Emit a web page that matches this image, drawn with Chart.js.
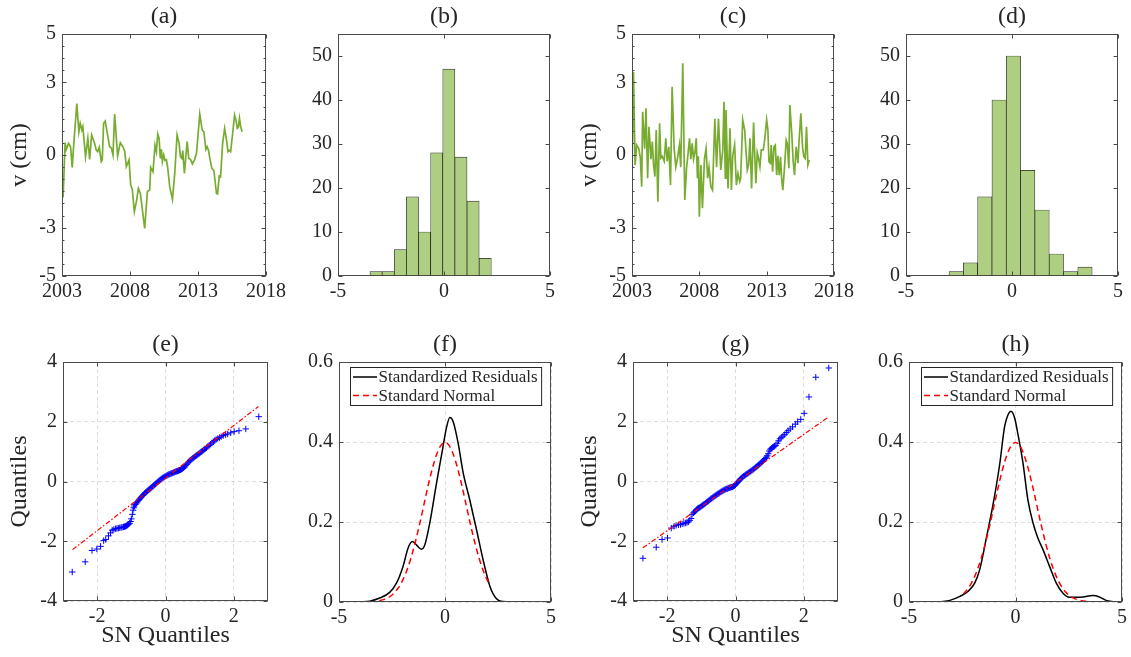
<!DOCTYPE html>
<html>
<head>
<meta charset="utf-8">
<script src="https://cdn.jsdelivr.net/npm/chart.js@4.4.0/dist/chart.umd.min.js"></script>
<style>
  html, body { margin: 0; padding: 0; background: #fff; }
  #fig { position: relative; width: 1131px; height: 657px; overflow: hidden; }
  #fig canvas { position: absolute; }
</style>
</head>
<body>
<div id="fig"></div>
<script>
"use strict";

// ---------- data ----------
const panelTitles = ['(a)', '(b)', '(c)', '(d)', '(e)', '(f)', '(g)', '(h)'];

// (a) smooth series
const yearsA = [2003.00,2003.08,2003.23,2003.31,2003.48,2003.63,2003.75,2003.87,2004.09,2004.24,
  2004.34,2004.46,2004.53,2004.73,2004.90,2005.03,2005.18,2005.40,2005.52,2005.62,
  2005.74,2005.89,2005.96,2006.06,2006.18,2006.33,2006.50,2006.62,2006.75,2006.87,
  2007.09,2007.29,2007.48,2007.61,2007.73,2007.93,2008.05,2008.17,2008.32,2008.47,
  2008.62,2008.76,2009.08,2009.28,2009.45,2009.52,2009.69,2009.84,2009.94,2010.04,
  2010.14,2010.23,2010.31,2010.38,2010.48,2010.58,2010.68,2010.77,2010.92,2011.12,
  2011.29,2011.46,2011.61,2011.71,2011.81,2011.88,2012.00,2012.20,2012.32,2012.45,
  2012.59,2012.74,2012.89,2013.13,2013.31,2013.43,2013.58,2013.67,2013.77,2013.87,
  2014.02,2014.17,2014.36,2014.44,2014.56,2014.66,2014.81,2014.96,2015.10,2015.20,
  2015.30,2015.40,2015.55,2015.69,2015.79,2015.89,2015.97,2016.05,2016.14,2016.24];
const valuesA = [-1.45,-1.75,0.51,0.23,0.48,0.34,-0.51,0.48,2.13,0.96,
  1.31,1.04,1.17,-0.07,0.69,-0.18,0.83,0.48,0.20,0.14,
  0.32,-0.27,-0.21,1.31,1.40,0.90,0.34,0.30,0.00,1.69,
  -0.04,0.51,0.34,0.16,-0.48,-0.20,-1.24,-1.42,-2.34,-1.93,
  -1.38,-1.58,-3.03,-1.51,-1.45,-0.51,-0.69,0.40,0.14,0.87,
  0.69,-0.14,0.23,-0.27,0.00,-0.23,-0.20,-0.51,-1.31,-1.83,
  -0.76,0.83,0.48,-0.07,-0.14,0.18,-0.76,0.55,-0.14,-0.18,
  -0.37,-0.20,0.07,1.69,1.03,0.96,0.23,0.34,0.20,-0.14,
  -0.55,-0.65,-1.59,-1.61,-0.87,-0.90,0.48,1.10,0.62,0.14,
  0.20,0.14,0.90,1.65,1.45,1.10,1.14,1.52,1.17,0.96];

// (c) noisy series
const yearsC = [2003.00,2003.11,2003.23,2003.35,2003.50,2003.62,2003.72,2003.79,2003.94,2004.04,
  2004.16,2004.26,2004.41,2004.51,2004.60,2004.70,2004.80,2004.92,2005.05,2005.14,
  2005.24,2005.39,2005.51,2005.61,2005.73,2005.86,2005.98,2006.13,2006.25,2006.37,
  2006.52,2006.62,2006.77,2006.92,2007.05,2007.17,2007.27,2007.37,2007.47,2007.57,
  2007.67,2007.77,2007.86,2007.93,2008.00,2008.12,2008.23,2008.38,2008.50,2008.62,
  2008.72,2008.85,2008.98,2009.15,2009.28,2009.42,2009.59,2009.74,2009.83,2009.93,
  2009.98,2010.13,2010.28,2010.38,2010.48,2010.62,2010.75,2010.87,2011.00,2011.07,
  2011.22,2011.37,2011.46,2011.56,2011.66,2011.76,2011.88,2012.03,2012.11,2012.20,
  2012.30,2012.40,2012.50,2012.60,2012.75,2012.85,2013.00,2013.09,2013.17,2013.27,
  2013.34,2013.44,2013.54,2013.64,2013.74,2013.83,2013.93,2014.03,2014.11,2014.20,
  2014.33,2014.45,2014.53,2014.65,2014.72,2014.87,2014.97,2015.07,2015.19,2015.32,
  2015.41,2015.54,2015.66,2015.76,2015.86,2015.96,2016.06,2016.16];
const valuesC = [-0.96,3.44,-0.41,0.41,0.28,-0.12,-1.31,1.79,0.26,1.93,
  -0.96,1.17,-0.17,0.55,-0.41,-0.89,1.03,-1.93,1.31,-0.12,
  -0.05,-0.26,0.69,-0.26,0.34,-1.24,2.82,0.26,-0.50,-0.17,
  0.41,-0.50,3.79,-1.86,-0.55,0.10,0.69,-0.17,0.48,-0.17,
  0.10,0.69,-0.96,-0.05,-2.55,-0.41,-2.20,-0.17,0.26,-0.96,
  -0.50,-1.30,-1.45,1.50,-0.50,1.50,-0.62,0.21,2.20,-0.96,
  1.86,-1.38,1.10,-1.45,-0.03,0.41,-1.24,-0.76,-1.10,-0.96,
  1.45,1.03,0.21,-0.62,-0.41,0.69,-1.38,1.34,0.07,-1.17,
  0.10,-0.14,-0.48,0.21,0.21,0.62,1.45,1.03,-0.28,-0.34,
  0.41,-0.69,0.34,0.41,-0.83,-0.03,-0.83,-0.07,-0.96,-1.45,
  -0.48,0.62,0.48,-0.55,2.07,0.83,-0.28,-0.83,0.34,-0.34,
  0.62,1.72,0.34,-0.07,-0.14,1.17,-0.41,-0.21];

// (b), (d) histograms
const binEdgesB = [-3.49,-2.918,-2.346,-1.774,-1.202,-0.63,-0.058,0.514,1.086,1.658,2.23];
const countsB = [1,1,6,18,10,28,47,27,17,4];
const binEdgesD = [-2.97,-2.295,-1.62,-0.945,-0.27,0.405,1.08,1.755,2.43,3.105,3.78];
const countsD = [1,3,18,40,50,24,15,5,1,2];

// (e), (g) Q-Q points and reference lines
const qqXE = [-2.73,-2.35,-2.15,-2.01,-1.90,-1.81,-1.75,-1.67,-1.61,-1.56,
  -1.51,-1.46,-1.42,-1.38,-1.34,-1.30,-1.27,-1.23,-1.20,-1.17,
  -1.14,-1.11,-1.08,-1.05,-1.02,-1.00,-0.97,-0.95,-0.93,-0.91,
  -0.88,-0.85,-0.82,-0.79,-0.76,-0.73,-0.70,-0.67,-0.64,-0.61,
  -0.58,-0.55,-0.52,-0.49,-0.46,-0.43,-0.40,-0.37,-0.34,-0.31,
  -0.28,-0.25,-0.22,-0.19,-0.16,-0.13,-0.10,-0.07,-0.04,-0.01,
  0.02,0.05,0.08,0.11,0.14,0.17,0.20,0.23,0.26,0.29,
  0.32,0.35,0.38,0.41,0.44,0.47,0.50,0.53,0.56,0.59,
  0.62,0.65,0.68,0.71,0.74,0.77,0.80,0.83,0.86,0.89,
  0.92,0.95,0.98,1.01,1.04,1.07,1.10,1.13,1.16,1.20,
  1.24,1.28,1.32,1.36,1.40,1.44,1.48,1.53,1.58,1.63,
  1.69,1.76,1.82,1.91,2.01,2.15,2.35,2.73];
const qqYE = [-3.03,-2.69,-2.31,-2.26,-2.17,-1.98,-1.94,-1.82,-1.72,-1.63,
  -1.60,-1.58,-1.57,-1.56,-1.55,-1.54,-1.53,-1.52,-1.51,-1.50,
  -1.48,-1.46,-1.43,-1.40,-1.34,-1.25,-1.10,-0.96,-0.88,-0.82,
  -0.77,-0.72,-0.68,-0.63,-0.59,-0.55,-0.51,-0.47,-0.44,-0.40,
  -0.37,-0.34,-0.31,-0.28,-0.25,-0.22,-0.19,-0.16,-0.13,-0.10,
  -0.07,-0.04,-0.01,0.02,0.05,0.08,0.11,0.13,0.15,0.17,
  0.19,0.21,0.23,0.24,0.26,0.27,0.28,0.30,0.31,0.33,
  0.34,0.35,0.36,0.38,0.39,0.41,0.43,0.46,0.49,0.53,
  0.57,0.62,0.66,0.69,0.72,0.75,0.78,0.80,0.83,0.86,
  0.88,0.91,0.93,0.96,0.99,1.01,1.04,1.07,1.10,1.13,
  1.17,1.21,1.25,1.29,1.33,1.37,1.41,1.44,1.47,1.50,
  1.54,1.57,1.59,1.63,1.67,1.70,1.76,2.17];
const refXE = [-2.72, 2.72];
const refYE = [-2.28, 2.51];

const qqXG = [-2.71,-2.32,-2.15,-1.99,-1.88,-1.80,-1.74,-1.67,-1.61,-1.56,
  -1.51,-1.46,-1.42,-1.38,-1.34,-1.30,-1.27,-1.23,-1.20,-1.17,
  -1.14,-1.11,-1.08,-1.05,-1.02,-0.99,-0.96,-0.93,-0.90,-0.87,
  -0.84,-0.81,-0.78,-0.75,-0.72,-0.69,-0.66,-0.63,-0.60,-0.57,
  -0.54,-0.51,-0.48,-0.45,-0.42,-0.39,-0.36,-0.33,-0.30,-0.27,
  -0.24,-0.21,-0.18,-0.15,-0.12,-0.09,-0.06,-0.03,0.00,0.03,
  0.06,0.09,0.12,0.15,0.18,0.21,0.24,0.27,0.30,0.33,
  0.36,0.39,0.42,0.45,0.48,0.51,0.54,0.57,0.60,0.63,
  0.66,0.69,0.72,0.75,0.78,0.81,0.84,0.87,0.90,0.93,
  0.96,0.99,1.02,1.05,1.08,1.11,1.14,1.18,1.22,1.26,
  1.30,1.34,1.39,1.44,1.49,1.54,1.60,1.67,1.75,1.82,
  1.91,2.01,2.15,2.35,2.73];
const qqYG = [-2.57,-2.20,-1.94,-1.89,-1.56,-1.50,-1.47,-1.45,-1.44,-1.42,
  -1.40,-1.39,-1.37,-1.35,-1.30,-1.24,-1.10,-1.05,-1.02,-0.98,
  -0.94,-0.91,-0.89,-0.87,-0.85,-0.82,-0.80,-0.77,-0.75,-0.72,
  -0.69,-0.67,-0.64,-0.61,-0.58,-0.56,-0.53,-0.51,-0.48,-0.46,
  -0.43,-0.41,-0.39,-0.36,-0.34,-0.32,-0.30,-0.28,-0.26,-0.25,
  -0.24,-0.22,-0.21,-0.20,-0.19,-0.18,-0.16,-0.14,-0.11,-0.07,
  -0.03,0.01,0.05,0.09,0.12,0.15,0.18,0.20,0.23,0.25,
  0.27,0.30,0.32,0.35,0.37,0.40,0.42,0.45,0.48,0.51,
  0.54,0.57,0.60,0.63,0.66,0.69,0.73,0.77,0.81,0.86,
  0.93,1.02,1.08,1.11,1.14,1.16,1.18,1.21,1.28,1.36,
  1.43,1.48,1.52,1.57,1.64,1.70,1.76,1.83,1.92,2.00,
  2.08,2.28,2.83,3.49,3.80];
const refXG = [-2.71, 2.71];
const refYG = [-2.22, 2.15];

// (f), (h) density estimates and standard normal
const kdeXF = [-4.02,-3.55,-3.08,-2.61,-2.29,-1.98,-1.74,-1.54,-1.35,-1.11,
  -0.95,-0.72,-0.40,-0.12,0.07,0.23,0.39,0.62,0.86,1.17,
  1.49,1.80,2.12,2.43,2.75,3.19];
const kdeYF = [0,0.002,0.01,0.024,0.047,0.089,0.135,0.151,0.143,0.132,
  0.143,0.197,0.297,0.38,0.436,0.461,0.45,0.397,0.322,0.255,
  0.18,0.105,0.039,0.008,0.001,0];
const normXF = [-3.1,-2.8,-2.5,-2.2,-2.0,-1.8,-1.6,-1.4,-1.2,-1.0,
  -0.8,-0.6,-0.4,-0.2,0,0.2,0.4,0.6,0.8,1.0,
  1.2,1.4,1.6,1.8,2.0,2.1];
const normYF = [0.0033,0.0079,0.0175,0.0355,0.054,0.079,0.111,0.150,0.194,0.242,
  0.290,0.333,0.368,0.391,0.399,0.391,0.368,0.333,0.290,0.242,
  0.194,0.150,0.111,0.079,0.054,0.044];

const kdeXH = [-3.55,-3.08,-2.61,-2.22,-1.91,-1.68,-1.36,-1.05,-0.74,-0.51,
  -0.35,-0.21,-0.04,0.12,0.35,0.58,0.82,1.05,1.29,1.60,
  1.91,2.22,2.53,2.85,3.16,3.63,3.94,4.25,4.64];
const kdeYH = [0,0.004,0.014,0.027,0.048,0.081,0.162,0.245,0.345,0.439,
  0.468,0.477,0.46,0.418,0.348,0.256,0.198,0.16,0.131,0.089,
  0.048,0.0225,0.012,0.012,0.0125,0.016,0.0125,0.004,0];
const normXH = [-2.45,-2.2,-2.0,-1.8,-1.6,-1.4,-1.2,-1.0,-0.8,-0.6,
  -0.4,-0.2,0,0.2,0.4,0.6,0.8,1.0,1.2,1.4,
  1.6,1.8,2.0,2.2,2.4,2.6,2.8,3.0,3.3,3.65];
const normYH = [0.0198,0.0355,0.054,0.079,0.111,0.150,0.194,0.242,0.290,0.333,
  0.368,0.391,0.399,0.391,0.368,0.333,0.290,0.242,0.194,0.150,
  0.111,0.079,0.054,0.0355,0.0224,0.0136,0.0079,0.0044,0.0017,0.0005];

const seriesLabels = ['Standardized Residuals', 'Standard Normal'];

// tick values
const yearTicks = [2003, 2008, 2013, 2018];
const dispTicks = [-5, -3, 0, 3, 5];
const histXTicks = [-5, 0, 5];
const histYTicks = [0, 10, 20, 30, 40, 50];
const qqXTicks = [-2, 0, 2];
const qqYTicks = [-4, -2, 0, 2, 4];
const pdfXTicks = [-5, 0, 5];
const pdfYTicks = [0, 0.2, 0.4, 0.6];

// ---------- styles ----------
const SERIF = '"Liberation Serif", "Times New Roman", serif';
const INK = '#262626';
const FRAME = '#4a4a4a';
const GREEN = 'rgb(119,172,48)';
const HISTFILL = 'rgb(174,206,130)';
const GRID = 'rgba(0,0,0,0.13)';

const zip = (xs, ys) => xs.map((v, i) => ({ x: v, y: ys[i] }));
const binPoints = (edges, counts) => counts.map((c, i) => ({ x: (edges[i] + edges[i + 1]) / 2, y: c }));

// box, ticks, title and legend drawn the MATLAB way
const framePlugin = {
  id: 'frame',
  afterDraw(chart, args, o) {
    const { ctx, chartArea: a, scales: { x, y } } = chart;
    const L = Math.round(a.left) + 0.5, R = Math.round(a.right) - 0.5;
    const T = Math.round(a.top) + 0.5, B = Math.round(a.bottom) - 0.5;
    ctx.save();
    ctx.strokeStyle = FRAME;
    ctx.lineWidth = 1;
    ctx.setLineDash([]);
    ctx.beginPath();
    x.ticks.forEach(t => {
      const p = Math.round(x.getPixelForValue(t.value)) + 0.5;
      ctx.moveTo(p, B); ctx.lineTo(p, B - 4);
      ctx.moveTo(p, T); ctx.lineTo(p, T + 4);
    });
    y.ticks.forEach(t => {
      const p = Math.round(y.getPixelForValue(t.value)) + 0.5;
      ctx.moveTo(L, p); ctx.lineTo(L + 4, p);
      ctx.moveTo(R, p); ctx.lineTo(R - 4, p);
    });
    if (o.minorY) {
      for (let v = y.min; v <= y.max + 1e-9; v += o.minorY) {
        const p = Math.round(y.getPixelForValue(v)) + 0.5;
        ctx.moveTo(L, p); ctx.lineTo(L + 2, p);
        ctx.moveTo(R, p); ctx.lineTo(R - 2, p);
      }
    }
    ctx.stroke();
    ctx.strokeRect(L, T, R - L, B - T);

    // panel label
    ctx.fillStyle = INK;
    ctx.font = `24px ${SERIF}`;
    ctx.textAlign = 'center';
    ctx.textBaseline = 'middle';
    ctx.fillText(o.title, (a.left + a.right) / 2, a.top - 17);

    if (o.legend) {
      const items = chart.data.datasets.filter(d => d.label);
      ctx.font = `17px ${SERIF}`;
      const textW = Math.max(...items.map(d => ctx.measureText(d.label).width));
      const w = 28 + textW + 4, h = 38;
      const lx = Math.round(a.right - 10 - w) + 0.5, ly = Math.round(a.top + 5) + 0.5;
      ctx.fillStyle = '#fff';
      ctx.fillRect(lx, ly, w, h);
      ctx.strokeStyle = INK;
      ctx.strokeRect(lx, ly, w, h);
      items.forEach((d, i) => {
        const cy = ly + 9.5 + i * 18.5;
        ctx.strokeStyle = d.borderColor;
        ctx.lineWidth = d.borderWidth;
        ctx.setLineDash(d.borderDash || []);
        ctx.beginPath();
        ctx.moveTo(lx + 2.5, cy); ctx.lineTo(lx + 26.5, cy);
        ctx.stroke();
        ctx.setLineDash([]);
        ctx.fillStyle = INK;
        ctx.textAlign = 'left';
        ctx.fillText(d.label, lx + 28, cy + 1);
      });
    }
    ctx.restore();
  }
};

const figure = document.getElementById('fig');

const makePanel = ({ box, area, type, datasets, x, y, title, grid = false, legend = false, minorY = 0 }) => {
  const [bx, by, bw, bh] = box;
  const [al, at, ar, ab] = area;
  const canvas = document.createElement('canvas');
  canvas.width = bw;
  canvas.height = bh;
  Object.assign(canvas.style, { left: bx + 'px', top: by + 'px', width: bw + 'px', height: bh + 'px' });
  figure.appendChild(canvas);

  const axis = (cfg, side) => ({
    type: 'linear',
    min: cfg.min,
    max: cfg.max,
    offset: false,
    afterBuildTicks: s => { s.ticks = cfg.ticks.map(v => ({ value: v })); },
    afterFit: s => { if (side === 'x') s.height = by + bh - ab; else s.width = al - bx; },
    grid: { display: grid, drawTicks: false, color: GRID, lineWidth: 1 },
    border: { display: false, dash: [4, 3] },
    ticks: {
      color: INK, font: { family: SERIF, size: 20 }, padding: side === 'x' ? 4 : 6,
      autoSkip: false, maxRotation: 0, callback: v => String(v)
    },
    title: cfg.label
      ? { display: true, text: cfg.label, color: INK, font: { family: SERIF, size: 24 },
          padding: side === 'x' ? { top: 0, bottom: 6.5 } : { top: 5.6, bottom: 0 } }
      : { display: false }
  });

  new Chart(canvas, {
    type,
    data: { datasets },
    options: {
      responsive: false,
      animation: false,
      events: [],
      layout: { padding: { left: 0, top: at - by, right: bx + bw - ar, bottom: 0 } },
      plugins: { legend: { display: false }, tooltip: { enabled: false }, frame: { title, legend, minorY } },
      scales: { x: axis(x, 'x'), y: axis(y, 'y') }
    },
    plugins: [framePlugin]
  });
};

const seriesSet = (xs, ys) => [{
  data: zip(xs, ys), borderColor: GREEN, borderWidth: 1.7, pointRadius: 0, tension: 0
}];
const histSet = (edges, counts) => [{
  data: binPoints(edges, counts), backgroundColor: HISTFILL, borderColor: 'rgba(0,0,0,0.85)',
  borderWidth: 0.7, borderSkipped: false, barPercentage: 1, categoryPercentage: 1
}];
const qqSet = (xs, ys, rx, ry) => [
  { data: zip(rx, ry), showLine: true, borderColor: '#ff0000', borderWidth: 1.2,
    borderDash: [5, 2, 1.5, 2], pointRadius: 0, order: 0 },
  { data: zip(xs, ys), pointStyle: 'cross', pointRadius: 3.2, borderColor: '#0000ff',
    borderWidth: 1, backgroundColor: '#0000ff', order: 1 }
];
const pdfSet = (kx, ky, nx, ny) => [
  { label: seriesLabels[0], data: zip(kx, ky), borderColor: '#000000', borderWidth: 1.5,
    pointRadius: 0, cubicInterpolationMode: 'monotone', order: 1 },
  { label: seriesLabels[1], data: zip(nx, ny), borderColor: '#ff0000', borderWidth: 1.5,
    borderDash: [6, 4], pointRadius: 0, cubicInterpolationMode: 'monotone', order: 0 }
];

const tsX = { min: 2003, max: 2018, ticks: yearTicks };
const tsY = { min: -5, max: 5, ticks: dispTicks, label: 'v (cm)' };
const hX = { min: -5, max: 5, ticks: histXTicks };
const hY = { min: 0, max: 55, ticks: histYTicks };
const qX = { min: -3, max: 3, ticks: qqXTicks, label: 'SN Quantiles' };
const qY = { min: -4, max: 4, ticks: qqYTicks, label: 'Quantiles' };
const pX = { min: -5, max: 5, ticks: pdfXTicks };
const pY = { min: 0, max: 0.6, ticks: pdfYTicks };

makePanel({ box: [0, 0, 290, 310], area: [62, 34, 266, 276], type: 'line',
  datasets: seriesSet(yearsA, valuesA), x: tsX, y: tsY, title: panelTitles[0], minorY: 0.5 });
makePanel({ box: [290, 0, 280, 310], area: [338, 34, 550, 276], type: 'bar',
  datasets: histSet(binEdgesB, countsB), x: hX, y: hY, title: panelTitles[1] });
makePanel({ box: [570, 0, 290, 310], area: [632, 34, 834, 276], type: 'line',
  datasets: seriesSet(yearsC, valuesC), x: tsX, y: tsY, title: panelTitles[2], minorY: 0.5 });
makePanel({ box: [850, 0, 281, 310], area: [906, 34, 1118, 276], type: 'bar',
  datasets: histSet(binEdgesD, countsD), x: hX, y: hY, title: panelTitles[3] });

makePanel({ box: [0, 310, 290, 347], area: [63, 362, 268, 601], type: 'scatter',
  datasets: qqSet(qqXE, qqYE, refXE, refYE), x: qX, y: qY, title: panelTitles[4], grid: true });
makePanel({ box: [290, 310, 280, 347], area: [339, 362, 551, 602], type: 'line',
  datasets: pdfSet(kdeXF, kdeYF, normXF, normYF), x: pX, y: pY, title: panelTitles[5], grid: true, legend: true });
makePanel({ box: [570, 310, 290, 347], area: [633, 362, 838, 601], type: 'scatter',
  datasets: qqSet(qqXG, qqYG, refXG, refYG), x: qX, y: qY, title: panelTitles[6], grid: true });
makePanel({ box: [850, 310, 281, 347], area: [909, 362, 1123, 602], type: 'line',
  datasets: pdfSet(kdeXH, kdeYH, normXH, normYH), x: pX, y: pY, title: panelTitles[7], grid: true, legend: true });
</script>
</body>
</html>
